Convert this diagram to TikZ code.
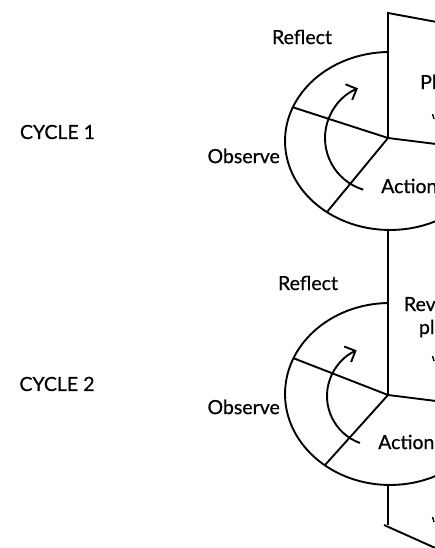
\documentclass[tikz,border=0pt]{standalone}
\usepackage{fontspec}
\setmainfont{Lato}[UprightFeatures={FakeBold=0.6}]
\usetikzlibrary{arrows.meta}
\begin{document}
\begin{tikzpicture}[x=1pt,y=-1pt,
  ln/.style={line width=1.9pt, black},
  arr/.style={line width=1.9pt, -{Straight Barb[length=8.5pt,width=17pt,line width=1.9pt]}},
  lbl/.style={font=\fontsize{19.5}{23}\selectfont, inner sep=0pt, text=black}]
\useasboundingbox (0,0) rectangle (435,548);
\clip (0,0) rectangle (435,548);
% --- coordinates
\coordinate (top1) at (388,13);
\coordinate (tr1) at (480,30);
\coordinate (J1) at (388,138);
\coordinate (ul1) at (292,107);
\coordinate (ll1) at (327,212);
\coordinate (r1) at (460,147);
\coordinate (e1top) at (388,52);
\coordinate (b1) at (388,230);
\coordinate (t2) at (388,303);
\coordinate (J2) at (388,395);
\coordinate (ul2) at (293,358);
\coordinate (ll2) at (325,465);
\coordinate (r2) at (460,404);
\coordinate (b2) at (388,485);
\coordinate (bot) at (388,525);
\coordinate (botl) at (384,525);
\coordinate (br) at (480,568);
% --- plan shape and verticals
\draw[ln] (tr1) -- (top1) -- (J1);
\draw[ln] (b1) -- (t2) -- (J2);
\draw[ln] (b2) -- (bot);
\draw[ln] (botl) -- (br);
% --- ellipse 1 (center 390,141; rx 105; ry 89)
\draw[ln] (e1top) arc[start angle=268.9, end angle=0, x radius=105, y radius=89];
\draw[ln] (J1) -- (ul1);
\draw[ln] (J1) -- (ll1);
\draw[ln] (J1) -- (r1);
% --- ellipse 2 (center 390,394; rx 105; ry 91)
\draw[ln] (t2) arc[start angle=268.9, end angle=0, x radius=105, y radius=91];
\draw[ln] (J2) -- (ul2);
\draw[ln] (J2) -- (ll2);
\draw[ln] (J2) -- (r2);
% --- curved arrows
\draw[arr] (379,138) ++(107:54) arc[start angle=107, end angle=247, radius=54];
\draw[arr] (377,396) ++(110:50) arc[start angle=110, end angle=246, radius=50];
% --- small cut-off marks
\draw[line width=1.4pt] (432.5,114) -- (434,119);
\draw[line width=1.4pt] (432.5,356) -- (434,361);
\draw[line width=1.4pt] (432.5,517) -- (434,522);
% --- labels
\node[lbl] (c1) at (57.5,132) {CYCLE 1};
\node[lbl] (c2) at (57,384) {CYCLE 2};
\node[lbl] (ref1) at (302,37) {Reflect};
\node[lbl] (ref2) at (308,283) {Reflect};
\node[lbl, anchor=east] (obs1) at (280,156) {Observe};
\node[lbl, anchor=east] (obs2) at (280,407) {Observe};
\node[lbl, anchor=west] (act1) at (381,186) {Action};
\node[lbl, anchor=west] (act2) at (378,442) {Action};
\node[lbl, anchor=west] (plan1) at (420,82) {Plan};
\node[lbl, align=center] (plan2) at (437,317) {Revised\\plan};
\end{tikzpicture}
\end{document}
